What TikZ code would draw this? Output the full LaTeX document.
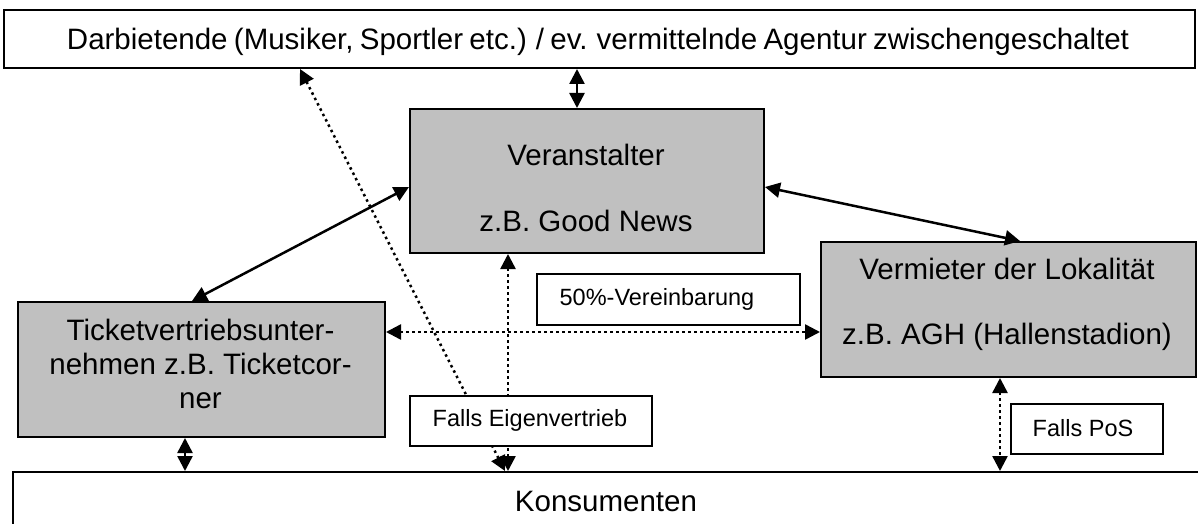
\documentclass[tikz,border=0pt]{standalone}
\usepackage{fontspec}
\setmainfont{Liberation Sans}
\usetikzlibrary{arrows.meta}
\definecolor{boxgray}{HTML}{C0C0C0}
\newcommand\mainsz{\fontsize{29.5}{34}\selectfont}
\newcommand\smallsz{\fontsize{23.5}{28}\selectfont}
\tikzset{
  box/.style={draw, line width=2pt, inner sep=0pt, anchor=north west},
  gbox/.style={box, fill=boxgray},
  wbox/.style={box, fill=white},
  txt/.style={font=\mainsz, anchor=base, inner sep=0pt},
  stxt/.style={font=\smallsz, anchor=base, inner sep=0pt},
  solidarr/.style={line width=2.5pt, {Triangle[length=15pt,width=15pt]}-{Triangle[length=15pt,width=15pt]}},
  dotarr/.style={line width=2.5pt, dash pattern=on 2.5pt off 3.5pt, {Triangle[length=15pt,width=15pt]}-{Triangle[length=15pt,width=15pt]}}
}
\begin{document}
\begin{tikzpicture}[x=1pt,y=-1pt]
\clip (0,0) rectangle (1198,524);
\fill[white] (0,0) rectangle (1198,524);
% main boxes
\node[wbox, minimum width=1191pt, minimum height=58pt] (dar) at (3,9) {};
\node[gbox, minimum width=354pt, minimum height=144pt] (ver) at (409,108) {};
\node[gbox, minimum width=375pt, minimum height=135pt] (verm) at (820,241) {};
\node[gbox, minimum width=367pt, minimum height=135pt] (tick) at (17,301) {};
\node[wbox, minimum width=1200pt, minimum height=80pt] (kon) at (12,471) {};
% texts
\node[txt] (darT) at (598,49.3) {\spaceskip=6.3pt Darbietende (Musiker, Sportler etc.) / ev. vermittelnde Agentur zwischengeschaltet};
\node[txt] (verT1) at (586,165) {Veranstalter};
\node[txt] (verT2) at (586,231.5) {z.B. Good News};
\node[txt] (vermT1) at (1007,279.5) {Vermieter der Lokalität};
\node[txt] (vermT2) at (1007,344) {z.B. AGH (Hallenstadion)};
\node[txt] (tickT1) at (200.5,340) {Ticketvertriebsunter-};
\node[txt] (tickT2) at (200.5,374) {nehmen z.B. Ticketcor-};
\node[txt] (tickT3) at (200.5,408) {ner};
\node[txt] (konT) at (606,511.5) {Konsumenten};
% connectors
\draw[solidarr] ([xshift=574pt]dar.south west) -- ([xshift=168pt]ver.north west);
\draw[solidarr] ([yshift=-79pt]ver.north west) -- ([xshift=175pt]tick.north west);
\draw[solidarr] ([yshift=-79pt]ver.north east) -- ([xshift=200pt]verm.north west);
\draw[dotarr] ([yshift=-31pt]tick.north east) -- ([yshift=-91pt]verm.north west);
\draw[dotarr] ([xshift=496pt]kon.north west) -- ([xshift=99pt]ver.south west);
\draw[dotarr] ([xshift=493pt]kon.north west) -- ([xshift=297pt]dar.south west);
\draw[solidarr] ([xshift=168pt]tick.south west) -- ([xshift=173pt]kon.north west);
\draw[dotarr] ([xshift=180pt]verm.south west) -- ([xshift=988pt]kon.north west);
% label boxes
\node[wbox, minimum width=263pt, minimum height=51pt] (v50) at (536,273) {};
\node[stxt] (v50T) at (657,305.7) {50\%-Vereinbarung};
\node[wbox, minimum width=242pt, minimum height=50pt] (fe) at (409,395) {};
\node[stxt] (feT) at (530,426.7) {Falls Eigenvertrieb};
\node[wbox, minimum width=152pt, minimum height=50pt] (pos) at (1010,403) {};
\node[stxt] (posT) at (1083,436) {Falls PoS};
\end{tikzpicture}
\end{document}
